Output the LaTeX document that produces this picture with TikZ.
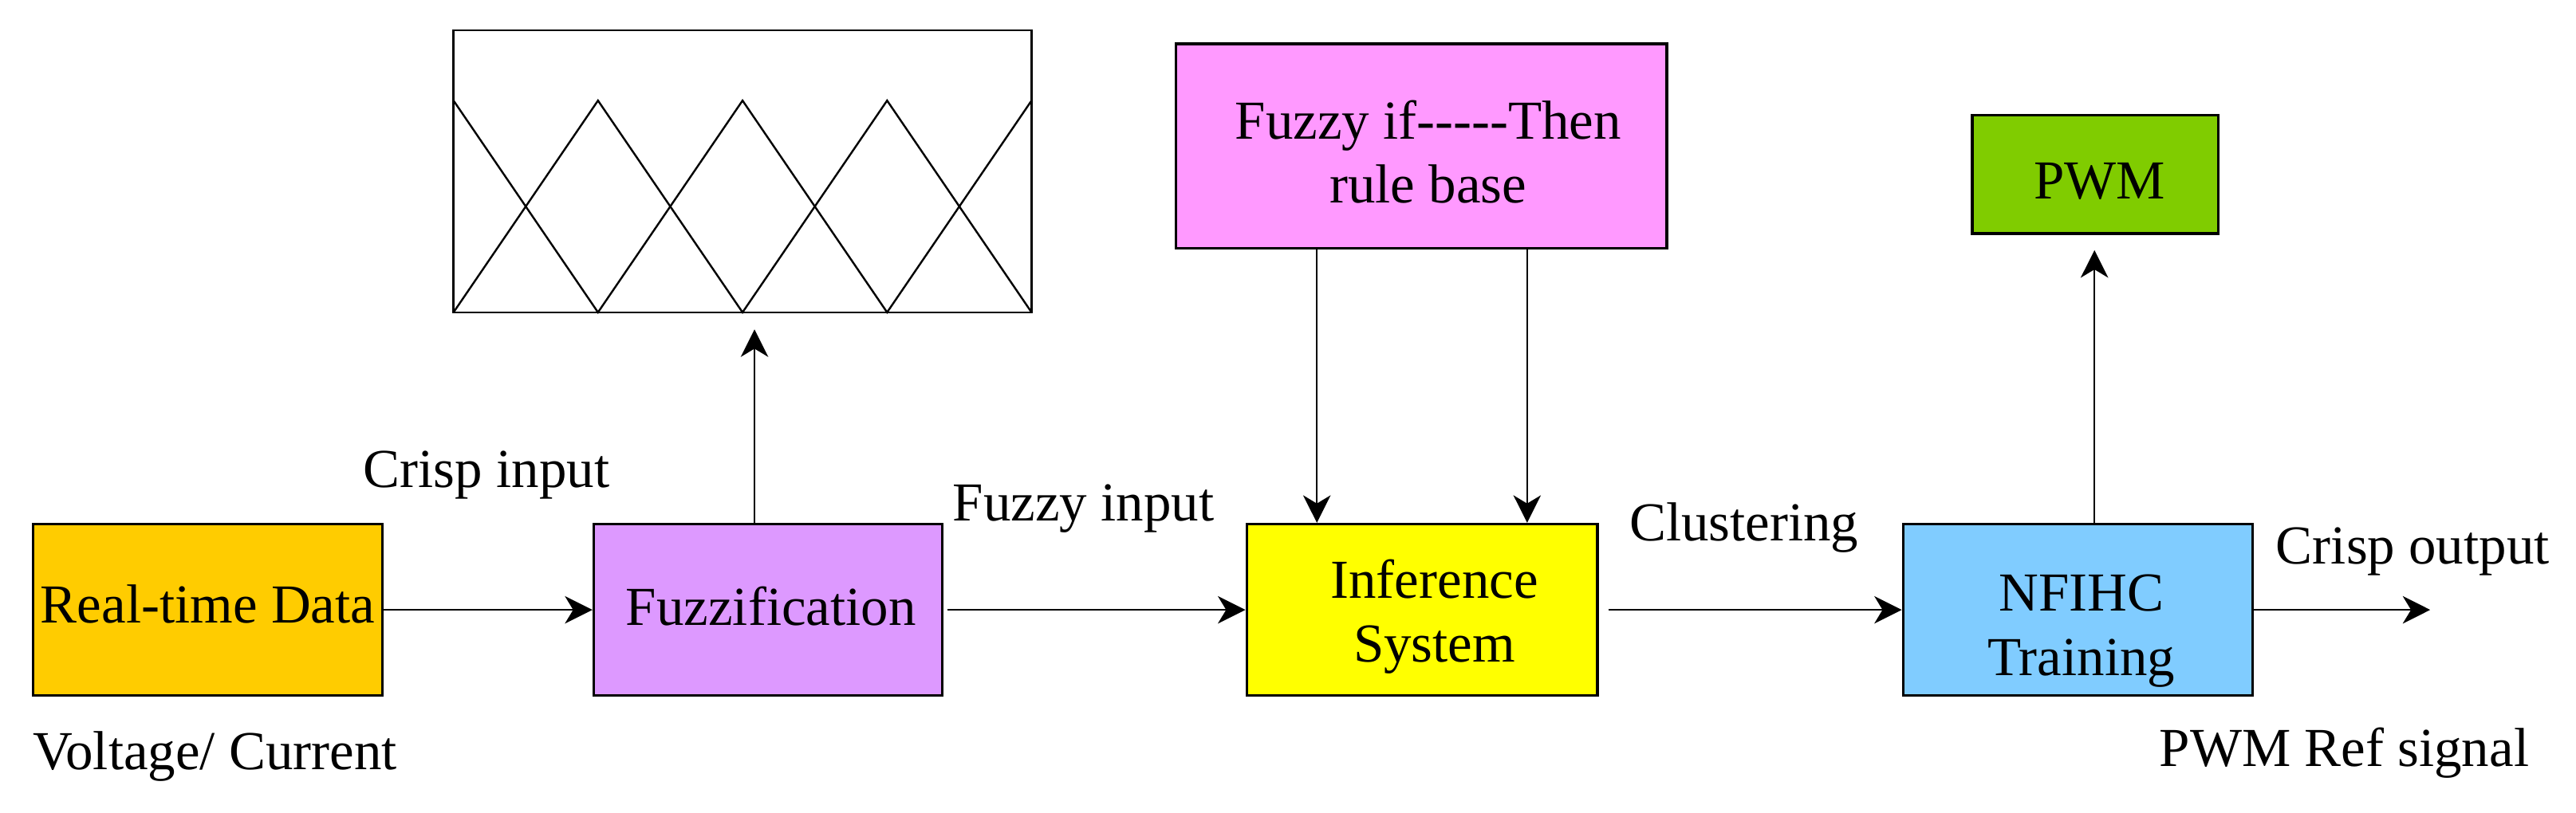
\documentclass[tikz,border=0pt]{standalone}
\usepackage{fontspec}
\setmainfont{Liberation Serif}
\usetikzlibrary{arrows.meta}
\definecolor{cRTD}{HTML}{FFCC00}
\definecolor{cFuzz}{HTML}{DD99FF}
\definecolor{cInf}{HTML}{FFFF00}
\definecolor{cRule}{HTML}{FF99FF}
\definecolor{cNF}{HTML}{80CCFF}
\definecolor{cPWM}{HTML}{80CC00}
\begin{document}
\begin{tikzpicture}[x=0.6pt,y=-0.6pt,
  font=\fontsize{20}{23.3}\selectfont,
  blk/.style={draw=black, line width=1pt, inner sep=0pt, minimum height=62.4pt},
  conn/.style={line width=0.7pt, -{Stealth[length=10pt,width=10pt,inset=3pt]}},
  mfline/.style={line width=0.7pt},
  lbl/.style={anchor=base, inner sep=0pt}]
\useasboundingbox (0,0) rectangle (1562,492.8);
% blocks
\node[blk, fill=cRTD, minimum width=127.2pt] (rtd) at (126,370) {};
\node[blk, fill=cFuzz, minimum width=126.8pt] (fuzz) at (465.7,370) {};
\node[blk, fill=cInf, minimum width=127.6pt] (inf) at (862.3,370) {};
\node[blk, fill=cNF, minimum width=127.2pt] (nfihc) at (1260,370) {};
\node[blk, fill=cRule, minimum width=178.6pt, minimum height=74.3pt] (rule) at (861.8,88.6) {};
\node[blk, fill=cPWM, minimum width=89.4pt, minimum height=43pt] (pwm) at (1270.5,105.8) {};
% block texts
\node[lbl] (trtd) at (126,378) {Real-time Data};
\node[lbl] (tfuzz) at (467.5,379.6) {Fuzzification};
\node[lbl] (tinfa) at (869.8,363) {Inference};
\node[lbl] (tinfb) at (869.8,401.8) {System};
\node[lbl] (tnfa) at (1262,370.7) {NFIHC};
\node[lbl] (tnfb) at (1262,409.7) {Training};
\node[lbl] (trulea) at (866,84.5) {Fuzzy if{-}{-}{-}{-}{-}Then};
\node[lbl] (truleb) at (866,123.3) {rule base};
\node[lbl] (tpwm) at (1273,120.5) {PWM};
% membership function box
\node[draw=black, line width=0.8pt, inner sep=0pt, minimum width=210.3pt, minimum height=102.7pt] (mf) at (450.25,103.95) {};
\draw[mfline] (275,61) -- (362.6,189.5) -- (450.25,61) -- (537.9,189.5) -- (625.5,61);
\draw[mfline] (275,189.5) -- (362.6,61) -- (450.25,189.5) -- (537.9,61) -- (625.5,189.5);
% helper coordinates
\coordinate (xa) at (457.5,0);
\coordinate (xr1) at (798.5,0);
\coordinate (xr2) at (926,0);
\coordinate (xp) at (1270,0);
\coordinate (out) at (1473.6,370);
% connectors
\draw[conn] (rtd) -- (fuzz);
\draw[conn, shorten <=1.5pt] (fuzz) -- (inf);
\draw[conn, shorten <=3.5pt] (inf) -- (nfihc);
\draw[conn] (nfihc) -- (out);
\draw[conn, shorten >=5.8pt] (fuzz.north -| xa) -- (mf.south -| xa);
\draw[conn] (rule.south -| xr1) -- (inf.north -| xr1);
\draw[conn] (rule.south -| xr2) -- (inf.north -| xr2);
\draw[conn, shorten >=5.6pt] (nfihc.north -| xp) -- (pwm.south -| xp);
% labels
\node[lbl] (crispin) at (295,295.8) {Crisp input};
\node[lbl] (fuzzin) at (657,315.8) {Fuzzy input};
\node[lbl] (clust) at (1057.5,327.9) {Clustering};
\node[lbl] (crispout) at (1463,342) {Crisp output};
\node[lbl] (volt) at (130.4,467) {Voltage/ Current};
\node[lbl] (pwmref) at (1421.5,465) {PWM Ref signal};
\end{tikzpicture}
\end{document}
